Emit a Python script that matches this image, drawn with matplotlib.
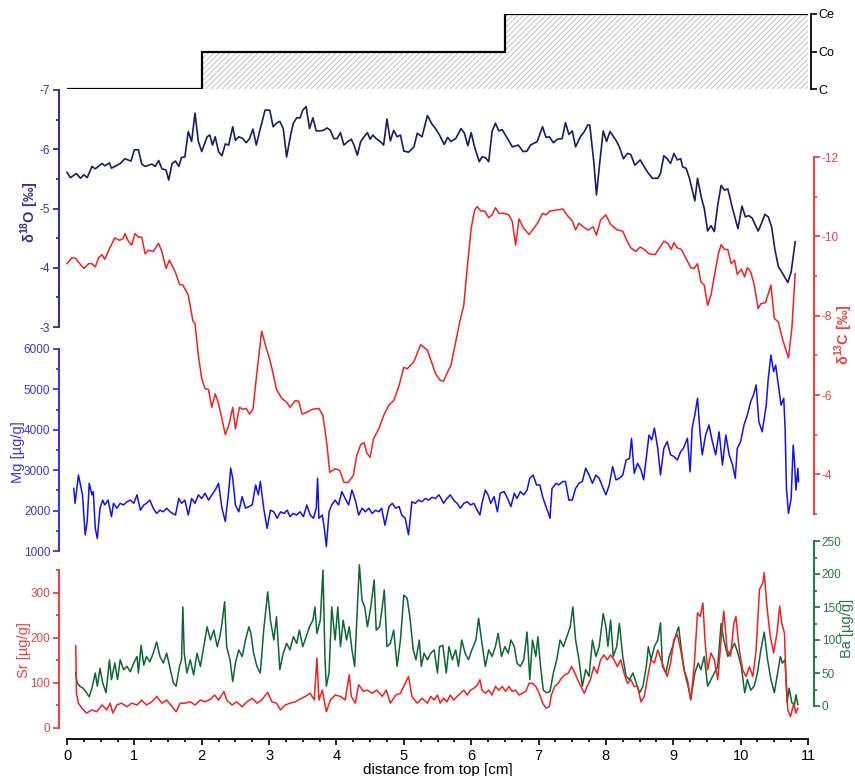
import matplotlib
matplotlib.use("Agg")
import matplotlib.pyplot as plt
from matplotlib.ticker import MultipleLocator

# growth zones along the sample (step panel on top)
zone_edges = [0.0, 2.0, 6.5, 11.0]
zone_levels = [0, 1, 2]
zone_names = ["C", "Co", "Ce"]

# d18O [permil]
d18o_cm = [0.00, 0.05, 0.14, 0.20, 0.25, 0.30, 0.37, 0.42, 0.52, 0.56, 0.63, 0.66, 0.79, 0.86, 0.95,
           1.00, 1.06, 1.11, 1.16, 1.26, 1.31, 1.36, 1.41, 1.47, 1.51, 1.56, 1.61, 1.66, 1.70, 1.75,
           1.80, 1.85, 1.90, 1.95, 2.00, 2.08, 2.12, 2.16, 2.20, 2.25, 2.30, 2.35, 2.40, 2.46, 2.50,
           2.55, 2.61, 2.66, 2.71, 2.76, 2.81, 2.87, 2.94, 3.01, 3.06, 3.11, 3.16, 3.21, 3.26, 3.32,
           3.36, 3.41, 3.46, 3.50, 3.55, 3.60, 3.65, 3.70, 3.76, 3.81, 3.86, 3.91, 3.96, 4.01, 4.06,
           4.11, 4.17, 4.22, 4.26, 4.31, 4.36, 4.41, 4.46, 4.50, 4.54, 4.59, 4.65, 4.70, 4.75, 4.80,
           4.85, 4.90, 4.95, 5.00, 5.07, 5.15, 5.20, 5.27, 5.35, 5.42, 5.47, 5.53, 5.60, 5.65, 5.70,
           5.77, 5.85, 5.90, 5.95, 6.00, 6.05, 6.12, 6.16, 6.21, 6.26, 6.31, 6.36, 6.41, 6.46, 6.54,
           6.61, 6.70, 6.77, 6.83, 6.88, 6.98, 7.06, 7.11, 7.16, 7.22, 7.28, 7.35, 7.40, 7.45, 7.50,
           7.55, 7.62, 7.68, 7.73, 7.76, 7.82, 7.86, 7.91, 7.96, 8.01, 8.06, 8.15, 8.20, 8.26, 8.32,
           8.37, 8.43, 8.51, 8.56, 8.62, 8.69, 8.77, 8.81, 8.86, 8.91, 8.96, 9.01, 9.06, 9.11, 9.14,
           9.19, 9.24, 9.32, 9.36, 9.42, 9.46, 9.51, 9.56, 9.61, 9.66, 9.71, 9.76, 9.81, 9.88, 9.96,
           10.02, 10.07, 10.12, 10.17, 10.22, 10.26, 10.31, 10.36, 10.41, 10.46, 10.51, 10.56, 10.62,
           10.70, 10.75, 10.81]
d18o_val = [-5.61, -5.52, -5.59, -5.51, -5.57, -5.52, -5.71, -5.67, -5.76, -5.72, -5.77, -5.68, -5.76,
            -5.84, -5.80, -5.99, -5.99, -5.75, -5.71, -5.75, -5.71, -5.81, -5.67, -5.65, -5.48, -5.76,
            -5.80, -5.71, -5.86, -5.87, -6.30, -6.13, -6.61, -6.13, -5.96, -6.21, -6.24, -6.07, -6.21,
            -5.96, -5.89, -6.09, -6.07, -6.38, -6.15, -6.21, -6.18, -6.11, -6.18, -6.34, -6.07, -6.35,
            -6.66, -6.66, -6.38, -6.44, -6.47, -6.35, -5.87, -6.24, -6.44, -6.53, -6.53, -6.66, -6.72,
            -6.35, -6.53, -6.31, -6.31, -6.32, -6.36, -6.32, -6.18, -6.18, -6.28, -6.07, -6.13, -6.17,
            -6.07, -5.90, -6.13, -6.21, -6.28, -6.17, -6.24, -6.18, -6.13, -6.07, -6.51, -6.14, -6.32,
            -6.21, -6.24, -5.97, -5.95, -6.04, -6.27, -6.21, -6.57, -6.42, -6.35, -6.24, -6.08, -6.20,
            -6.13, -6.18, -6.35, -6.27, -6.06, -6.28, -6.04, -5.79, -5.87, -5.86, -5.79, -6.30, -6.44,
            -6.31, -6.33, -6.18, -6.04, -6.07, -5.96, -5.97, -6.07, -6.13, -6.38, -6.20, -6.21, -6.11,
            -6.17, -6.18, -6.45, -6.25, -6.31, -6.04, -6.21, -6.30, -6.41, -6.41, -5.79, -5.23, -5.79,
            -6.31, -6.13, -6.30, -6.15, -6.04, -5.84, -5.93, -5.91, -5.73, -5.82, -5.72, -5.61, -5.51,
            -5.51, -5.59, -5.89, -5.84, -5.76, -5.93, -5.82, -5.84, -5.70, -5.68, -5.51, -5.13, -5.51,
            -5.17, -5.00, -4.62, -4.71, -4.61, -5.06, -5.39, -5.31, -5.33, -5.00, -4.66, -5.04, -4.86,
            -4.88, -4.84, -4.72, -4.62, -4.75, -4.90, -4.86, -4.69, -4.30, -4.02, -3.91, -3.75, -3.93,
            -4.44]

# d13C [permil]
d13c_cm = [0.00, 0.07, 0.13, 0.19, 0.25, 0.32, 0.37, 0.42, 0.47, 0.52, 0.56, 0.63, 0.71, 0.78, 0.83,
           0.86, 0.91, 0.96, 1.01, 1.06, 1.11, 1.16, 1.21, 1.28, 1.36, 1.41, 1.47, 1.52, 1.61, 1.67,
           1.72, 1.80, 1.87, 1.90, 1.95, 2.00, 2.05, 2.10, 2.15, 2.20, 2.25, 2.30, 2.35, 2.40, 2.46,
           2.50, 2.56, 2.61, 2.66, 2.71, 2.76, 2.82, 2.89, 2.96, 3.02, 3.11, 3.19, 3.26, 3.31, 3.39,
           3.44, 3.49, 3.56, 3.64, 3.74, 3.80, 3.86, 3.90, 3.98, 4.05, 4.11, 4.17, 4.25, 4.30, 4.36,
           4.41, 4.45, 4.50, 4.55, 4.63, 4.70, 4.78, 4.85, 4.93, 5.00, 5.05, 5.15, 5.25, 5.35, 5.41,
           5.47, 5.54, 5.59, 5.65, 5.70, 5.77, 5.83, 5.89, 5.95, 6.00, 6.05, 6.09, 6.14, 6.20, 6.26,
           6.31, 6.36, 6.41, 6.49, 6.56, 6.61, 6.66, 6.71, 6.78, 6.86, 6.93, 6.99, 7.06, 7.11, 7.17,
           7.26, 7.36, 7.43, 7.50, 7.55, 7.60, 7.68, 7.74, 7.81, 7.86, 7.92, 8.00, 8.07, 8.17, 8.25,
           8.31, 8.37, 8.44, 8.51, 8.57, 8.64, 8.73, 8.79, 8.86, 8.92, 8.97, 9.01, 9.06, 9.12, 9.19,
           9.26, 9.31, 9.36, 9.41, 9.46, 9.51, 9.56, 9.62, 9.67, 9.71, 9.76, 9.81, 9.86, 9.91, 9.95,
           10.01, 10.06, 10.10, 10.15, 10.20, 10.26, 10.30, 10.37, 10.45, 10.50, 10.56, 10.62, 10.71,
           10.76, 10.81]
d13c_val = [-9.31, -9.46, -9.44, -9.31, -9.19, -9.31, -9.31, -9.23, -9.46, -9.54, -9.42, -9.69, -9.96,
            -9.90, -9.94, -10.07, -9.88, -9.78, -10.07, -9.98, -9.98, -9.56, -9.65, -9.62, -9.82, -9.61,
            -9.19, -9.40, -9.09, -8.79, -8.77, -8.52, -7.86, -7.80, -7.00, -6.41, -6.16, -6.14, -5.69,
            -6.03, -5.78, -5.40, -5.00, -5.23, -5.69, -5.15, -5.69, -5.64, -5.66, -5.52, -5.64, -6.58,
            -7.61, -7.17, -6.84, -6.14, -5.91, -5.82, -5.69, -5.86, -5.84, -5.52, -5.56, -5.64, -5.66,
            -5.48, -4.73, -4.05, -4.14, -4.10, -3.80, -3.79, -3.97, -4.47, -4.75, -4.80, -4.54, -4.43,
            -4.90, -5.15, -5.48, -5.75, -5.86, -6.24, -6.70, -6.66, -6.84, -7.27, -7.13, -6.84, -6.54,
            -6.37, -6.35, -6.58, -6.75, -7.34, -7.84, -8.26, -9.36, -10.20, -10.66, -10.75, -10.64,
            -10.64, -10.47, -10.54, -10.72, -10.58, -10.58, -10.54, -10.37, -9.78, -10.44, -10.20,
            -10.05, -10.20, -10.35, -10.58, -10.54, -10.64, -10.66, -10.69, -10.52, -10.39, -10.16,
            -10.33, -10.22, -10.16, -10.24, -10.03, -10.41, -10.54, -10.30, -10.16, -10.13, -9.90,
            -9.71, -9.62, -9.73, -9.67, -9.56, -9.54, -9.69, -9.88, -9.82, -9.67, -9.84, -9.71, -9.67,
            -9.44, -9.21, -9.19, -9.31, -8.85, -8.77, -8.26, -8.52, -9.10, -9.56, -9.79, -9.67, -9.67,
            -9.31, -9.40, -9.04, -9.17, -8.98, -9.21, -9.10, -8.79, -8.18, -8.30, -8.33, -8.77, -7.93,
            -7.84, -7.42, -6.93, -7.68, -9.06]

# Mg [ug/g]
mg_cm = [0.10, 0.12, 0.17, 0.20, 0.23, 0.27, 0.30, 0.33, 0.37, 0.39, 0.42, 0.45, 0.49, 0.53, 0.56,
         0.61, 0.66, 0.69, 0.74, 0.79, 0.84, 0.89, 0.94, 0.99, 1.04, 1.09, 1.14, 1.18, 1.23, 1.28,
         1.33, 1.38, 1.43, 1.48, 1.53, 1.61, 1.66, 1.70, 1.75, 1.80, 1.85, 1.90, 1.95, 2.00, 2.05,
         2.10, 2.15, 2.20, 2.25, 2.30, 2.35, 2.40, 2.43, 2.46, 2.50, 2.55, 2.60, 2.65, 2.70, 2.75,
         2.80, 2.84, 2.87, 2.92, 2.97, 3.02, 3.07, 3.12, 3.17, 3.22, 3.27, 3.31, 3.36, 3.41, 3.46,
         3.51, 3.56, 3.61, 3.66, 3.70, 3.72, 3.74, 3.79, 3.82, 3.85, 3.89, 3.93, 3.98, 4.03, 4.08,
         4.13, 4.18, 4.23, 4.28, 4.33, 4.38, 4.43, 4.48, 4.53, 4.58, 4.63, 4.67, 4.72, 4.78, 4.83,
         4.88, 4.93, 4.97, 5.02, 5.07, 5.12, 5.17, 5.22, 5.27, 5.32, 5.37, 5.42, 5.47, 5.52, 5.54,
         5.59, 5.64, 5.69, 5.74, 5.79, 5.84, 5.89, 5.94, 5.99, 6.04, 6.09, 6.13, 6.16, 6.21, 6.25,
         6.29, 6.34, 6.39, 6.43, 6.49, 6.54, 6.59, 6.64, 6.68, 6.73, 6.78, 6.83, 6.87, 6.92, 6.97,
         7.02, 7.06, 7.11, 7.14, 7.17, 7.20, 7.26, 7.30, 7.36, 7.40, 7.45, 7.50, 7.55, 7.60, 7.65,
         7.70, 7.75, 7.80, 7.85, 7.90, 7.95, 8.00, 8.05, 8.10, 8.15, 8.20, 8.25, 8.30, 8.35, 8.38,
         8.42, 8.47, 8.52, 8.56, 8.61, 8.64, 8.68, 8.72, 8.77, 8.81, 8.86, 8.91, 8.96, 9.01, 9.06,
         9.11, 9.15, 9.21, 9.25, 9.28, 9.32, 9.36, 9.40, 9.43, 9.48, 9.53, 9.58, 9.63, 9.68, 9.73,
         9.78, 9.83, 9.88, 9.92, 9.95, 10.00, 10.05, 10.10, 10.15, 10.19, 10.23, 10.27, 10.32, 10.38,
         10.41, 10.45, 10.49, 10.52, 10.56, 10.60, 10.64, 10.66, 10.68, 10.71, 10.75, 10.78, 10.80,
         10.82, 10.85, 10.86]
mg_val = [2550, 2180, 2880, 2635, 2390, 1400, 1730, 2675, 2390, 2470, 1560, 1310, 2060, 2260, 2140,
          2260, 1850, 2180, 2060, 2180, 2140, 2220, 2260, 2180, 2390, 2010, 2140, 2180, 2260, 2060,
          1930, 2010, 1970, 2060, 1970, 1890, 2300, 2180, 2260, 1890, 2300, 2180, 2390, 2300, 2430,
          2260, 2390, 2510, 2675, 2060, 1730, 2470, 3050, 2800, 2140, 1970, 2345, 2060, 2100, 2140,
          2635, 2390, 2720, 2060, 1560, 2010, 1970, 1810, 1970, 1930, 2010, 1850, 1930, 1890, 1970,
          1850, 2140, 1890, 1810, 2060, 2800, 1810, 1890, 1560, 1110, 1970, 2140, 2260, 2140, 2470,
          2300, 2140, 2510, 2260, 1890, 2060, 1970, 2060, 1930, 2010, 1970, 2060, 1640, 2100, 2180,
          2060, 2100, 1890, 1810, 1400, 2220, 2180, 2260, 2220, 2300, 2260, 2330, 2300, 2390, 2345,
          2180, 2300, 2390, 2262, 2180, 2060, 2180, 2220, 2140, 2180, 2010, 1890, 2180, 2510, 2390,
          2180, 2345, 1970, 2430, 2470, 2300, 2100, 2430, 2300, 2470, 2390, 2510, 2800, 2880, 2635,
          2635, 2345, 2100, 1970, 1810, 2550, 2675, 2635, 2720, 2720, 2260, 2260, 2550, 2675, 2720,
          3050, 2880, 2675, 2880, 2800, 2590, 2390, 2635, 3090, 2760, 2800, 2880, 3250, 3290, 3790,
          2920, 3170, 3010, 2760, 3460, 3870, 3750, 4040, 3540, 2880, 3540, 3710, 3380, 3340, 3250,
          3460, 3540, 3790, 2960, 4040, 4370, 4780, 3870, 3380, 3870, 4120, 3710, 3380, 3950, 3130,
          3870, 3380, 3130, 2800, 3540, 3710, 4120, 4370, 4700, 4860, 5110, 4200, 3950, 4610, 5270,
          5850, 5440, 5600, 5110, 4610, 4780, 4040, 2550, 1930, 2300, 3620, 3210, 2510, 3050, 2720]

# Sr [ug/g]
sr_cm = [0.13, 0.14, 0.17, 0.22, 0.29, 0.37, 0.44, 0.52, 0.59, 0.64, 0.68, 0.74, 0.81, 0.89, 0.96,
         1.04, 1.11, 1.18, 1.26, 1.33, 1.41, 1.48, 1.56, 1.62, 1.68, 1.75, 1.83, 1.90, 1.98, 2.05,
         2.13, 2.19, 2.25, 2.33, 2.37, 2.45, 2.52, 2.60, 2.67, 2.75, 2.82, 2.89, 2.98, 3.04, 3.11,
         3.17, 3.24, 3.31, 3.39, 3.46, 3.54, 3.61, 3.67, 3.71, 3.74, 3.79, 3.85, 3.91, 3.98, 4.06,
         4.13, 4.19, 4.22, 4.28, 4.33, 4.40, 4.46, 4.53, 4.60, 4.68, 4.74, 4.80, 4.88, 4.95, 5.02,
         5.07, 5.12, 5.20, 5.27, 5.35, 5.40, 5.45, 5.50, 5.54, 5.59, 5.64, 5.69, 5.74, 5.79, 5.84,
         5.89, 5.94, 5.99, 6.04, 6.09, 6.13, 6.16, 6.21, 6.26, 6.31, 6.36, 6.41, 6.46, 6.51, 6.56,
         6.61, 6.66, 6.71, 6.76, 6.81, 6.86, 6.91, 6.96, 7.01, 7.06, 7.11, 7.16, 7.19, 7.24, 7.29,
         7.34, 7.39, 7.44, 7.49, 7.53, 7.58, 7.63, 7.68, 7.72, 7.77, 7.82, 7.87, 7.92, 7.97, 8.02,
         8.07, 8.12, 8.17, 8.22, 8.27, 8.32, 8.37, 8.42, 8.47, 8.52, 8.57, 8.62, 8.67, 8.72, 8.77,
         8.82, 8.87, 8.91, 8.96, 9.01, 9.06, 9.11, 9.16, 9.21, 9.26, 9.31, 9.36, 9.40, 9.44, 9.47,
         9.51, 9.56, 9.61, 9.66, 9.71, 9.75, 9.80, 9.85, 9.90, 9.93, 9.98, 10.03, 10.08, 10.13, 10.18,
         10.23, 10.28, 10.33, 10.35, 10.39, 10.44, 10.49, 10.54, 10.58, 10.61, 10.65, 10.67, 10.70,
         10.74, 10.79, 10.82, 10.85]
sr_val = [182, 77, 55, 44, 33, 40, 36, 51, 40, 55, 33, 51, 55, 47, 55, 51, 62, 51, 58, 70, 55, 62, 47,
          36, 55, 55, 58, 51, 62, 58, 64, 73, 62, 81, 62, 51, 58, 47, 58, 66, 55, 62, 79, 58, 55, 40,
          51, 55, 58, 64, 70, 77, 62, 155, 62, 84, 36, 62, 73, 70, 62, 118, 70, 55, 96, 81, 84, 77, 84,
          70, 84, 55, 73, 77, 99, 114, 70, 55, 66, 55, 70, 62, 73, 55, 66, 58, 73, 62, 70, 77, 84, 73,
          84, 88, 95, 107, 84, 77, 84, 73, 92, 84, 92, 81, 92, 81, 84, 73, 77, 81, 99, 99, 92, 77, 55,
          44, 47, 73, 92, 99, 110, 118, 121, 136, 125, 107, 92, 77, 92, 107, 136, 121, 151, 162, 151,
          162, 151, 136, 151, 121, 99, 107, 92, 92, 58, 70, 114, 151, 144, 173, 151, 129, 114, 144, 196,
          207, 173, 129, 107, 62, 136, 255, 247, 277, 196, 129, 166, 151, 107, 196, 259, 173, 159, 232,
          247, 173, 129, 114, 136, 114, 173, 307, 322, 344, 270, 203, 166, 211, 270, 232, 211, 121, 40,
          25, 55, 33, 44]

# Ba [ug/g]
ba_cm = [0.13, 0.15, 0.19, 0.24, 0.29, 0.33, 0.37, 0.42, 0.45, 0.49, 0.53, 0.58, 0.63, 0.66, 0.71,
         0.75, 0.79, 0.84, 0.89, 0.94, 0.99, 1.04, 1.06, 1.10, 1.14, 1.18, 1.23, 1.28, 1.33, 1.38,
         1.43, 1.48, 1.53, 1.58, 1.62, 1.67, 1.70, 1.72, 1.74, 1.78, 1.83, 1.88, 1.93, 1.98, 2.03,
         2.08, 2.13, 2.18, 2.23, 2.27, 2.30, 2.34, 2.37, 2.42, 2.46, 2.50, 2.55, 2.60, 2.65, 2.70,
         2.73, 2.77, 2.82, 2.87, 2.92, 2.98, 3.02, 3.07, 3.11, 3.16, 3.21, 3.26, 3.31, 3.36, 3.41,
         3.45, 3.50, 3.55, 3.60, 3.65, 3.68, 3.71, 3.76, 3.80, 3.83, 3.85, 3.89, 3.93, 3.98, 4.02,
         4.06, 4.10, 4.15, 4.19, 4.23, 4.27, 4.30, 4.34, 4.38, 4.42, 4.46, 4.51, 4.56, 4.59, 4.64,
         4.68, 4.71, 4.75, 4.80, 4.85, 4.90, 4.95, 5.00, 5.05, 5.09, 5.14, 5.18, 5.23, 5.26, 5.30,
         5.35, 5.40, 5.45, 5.50, 5.53, 5.58, 5.63, 5.67, 5.72, 5.77, 5.81, 5.86, 5.91, 5.96, 6.01,
         6.07, 6.11, 6.16, 6.21, 6.26, 6.31, 6.36, 6.40, 6.45, 6.50, 6.55, 6.59, 6.64, 6.68, 6.73,
         6.78, 6.83, 6.87, 6.91, 6.96, 6.99, 7.03, 7.07, 7.12, 7.17, 7.22, 7.27, 7.32, 7.37, 7.42,
         7.47, 7.51, 7.55, 7.60, 7.65, 7.70, 7.75, 7.80, 7.85, 7.90, 7.96, 8.00, 8.03, 8.07, 8.11,
         8.16, 8.20, 8.25, 8.30, 8.35, 8.40, 8.45, 8.50, 8.55, 8.60, 8.63, 8.67, 8.72, 8.77, 8.81,
         8.84, 8.89, 8.94, 8.99, 9.03, 9.08, 9.12, 9.17, 9.22, 9.26, 9.32, 9.37, 9.41, 9.46, 9.51,
         9.56, 9.61, 9.66, 9.71, 9.75, 9.81, 9.86, 9.91, 9.96, 10.01, 10.06, 10.10, 10.15, 10.20,
         10.25, 10.30, 10.35, 10.40, 10.45, 10.50, 10.55, 10.59, 10.62, 10.66, 10.69, 10.72, 10.76,
         10.80, 10.82, 10.85]
ba_val = [50, 35, 30, 27, 20, 14, 27, 50, 30, 57, 35, 20, 70, 40, 65, 40, 70, 55, 60, 52, 65, 75, 50,
          92, 62, 75, 67, 80, 97, 75, 65, 80, 57, 35, 30, 60, 70, 150, 80, 50, 70, 47, 80, 60, 90, 120,
          100, 115, 90, 105, 125, 158, 90, 70, 37, 65, 85, 75, 100, 120, 110, 80, 60, 50, 115, 173, 130,
          100, 135, 55, 80, 95, 85, 105, 95, 115, 90, 105, 120, 130, 150, 110, 130, 206, 70, 30, 50,
          150, 100, 150, 90, 130, 100, 120, 85, 60, 125, 214, 160, 150, 120, 150, 191, 115, 120, 150,
          176, 90, 95, 115, 60, 100, 168, 163, 135, 85, 70, 100, 60, 80, 70, 80, 85, 50, 90, 92, 50,
          90, 70, 85, 60, 100, 80, 70, 85, 100, 133, 95, 60, 85, 75, 90, 110, 75, 90, 80, 100, 90, 65,
          60, 70, 112, 40, 100, 75, 105, 60, 24, 20, 22, 50, 70, 100, 90, 105, 120, 150, 100, 70, 30,
          55, 45, 100, 75, 90, 140, 120, 90, 130, 75, 90, 125, 75, 45, 40, 50, 35, 20, 30, 60, 90, 70,
          90, 100, 126, 60, 50, 75, 90, 105, 120, 85, 50, 30, 10, 50, 65, 55, 75, 30, 40, 50, 60, 125,
          100, 75, 85, 95, 80, 60, 20, 40, 24, 30, 50, 85, 112, 70, 40, 20, 50, 75, 65, 70, 5, 27, 5,
          2, 17, 2]

plt.rcParams["font.family"] = ["Liberation Sans", "DejaVu Sans"]
plt.rcParams["axes.unicode_minus"] = False
plt.rcParams["mathtext.fontset"] = "custom"
plt.rcParams["mathtext.rm"] = "Liberation Sans"
plt.rcParams["mathtext.bf"] = "Liberation Sans:bold"
plt.rcParams["hatch.linewidth"] = 0.6

W, H = 855, 776
X0, X1 = 67, 808

NAVY_LINE, NAVY = "#1b1b66", "#34348c"
RED_LINE, RED = "#ee2222", "#e84444"
BLUE_LINE, BLUE = "#1212ee", "#3a3ad8"
GREEN_LINE, GREEN = "#0d6634", "#287a48"

fig = plt.figure(figsize=(W / 100, H / 100), dpi=100)


def band(top, bottom, z):
    """Axes spanning the shared x range between two pixel rows."""
    ax = fig.add_axes([X0 / W, 1 - bottom / H, (X1 - X0) / W, (bottom - top) / H], zorder=z)
    ax.patch.set_visible(False)
    for sp in ax.spines.values():
        sp.set_visible(False)
    ax.set_xlim(0, 11)
    ax.tick_params(axis="x", which="both", bottom=False, labelbottom=False)
    return ax


def yaxis(ax, side, color, major, minor, offset=6):
    sp = ax.spines[side]
    sp.set_visible(True)
    sp.set_color(color)
    sp.set_linewidth(1.5)
    sp.set_position(("outward", offset))
    ax.yaxis.set_ticks_position(side)
    ax.yaxis.set_major_locator(MultipleLocator(major))
    ax.yaxis.set_minor_locator(MultipleLocator(minor))
    ax.tick_params(axis="y", which="both", colors=color, labelcolor=color, width=1.3,
                   labelsize=8.5, pad=1.5)
    ax.tick_params(axis="y", which="major", length=4.5)
    ax.tick_params(axis="y", which="minor", length=2.5)


def label(x, y, text, color, bold=False, size=11):
    fig.text(x / W, 1 - y / H, text, color=color, rotation=90, ha="center", va="center",
             fontsize=size, fontweight="bold" if bold else "normal")


# growth zones
ax_z = band(14, 89, 1)
ax_z.stairs(zone_levels, zone_edges, baseline=0, fill=True, hatch="//////",
            facecolor="white", edgecolor="#b8b8b8", linewidth=0)
ax_z.stairs(zone_levels, zone_edges, baseline=None, color="black", linewidth=1.6)
ax_z.set_ylim(0, 2)
ax_z.spines["right"].set_visible(True)
ax_z.spines["right"].set_position(("outward", 2))
ax_z.spines["right"].set_linewidth(1.3)
ax_z.yaxis.set_ticks_position("right")
ax_z.set_yticks(zone_levels, zone_names)
ax_z.tick_params(axis="y", length=4, width=1.2, labelsize=9, pad=1.5)

# d18O
ax_o = band(90, 327, 3)
ax_o.plot(d18o_cm, d18o_val, color=NAVY_LINE, lw=1.2, clip_on=False)
ax_o.set_ylim(-3, -7)
yaxis(ax_o, "left", NAVY, 1, 0.5)
label(30, 212, r"δ$^{\mathbf{18}}$O [‰]", NAVY, bold=True, size=10.5)

# d13C
ax_c = band(157, 514, 2)
ax_c.plot(d13c_cm, d13c_val, color=RED_LINE, lw=1.1, clip_on=False)
ax_c.set_ylim(-3, -12)
yaxis(ax_c, "right", RED, 2, 1, offset=4)
label(844, 335, r"δ$^{\mathbf{13}}$C [‰]", RED, bold=True, size=10.5)

# Mg
ax_m = band(349, 551, 2)
ax_m.plot(mg_cm, mg_val, color=BLUE_LINE, lw=1.1, clip_on=False)
ax_m.set_ylim(1000, 6000)
yaxis(ax_m, "left", BLUE, 1000, 500)
label(18, 452, "Mg [µg/g]", BLUE, size=10.5)

# Ba (drawn below Sr)
ax_b = band(541, 706, 1)
ax_b.plot(ba_cm, ba_val, color=GREEN_LINE, lw=1.1, clip_on=False)
ax_b.set_ylim(0, 250)
yaxis(ax_b, "right", GREEN, 50, 25, offset=4)
label(847, 628, "Ba [µg/g]", GREEN, size=10.5)

# Sr + distance axis
ax_s = band(570, 728, 2)
ax_s.plot(sr_cm, sr_val, color=RED_LINE, lw=1.1, clip_on=False)
ax_s.set_ylim(0, 350)
yaxis(ax_s, "left", RED, 100, 50)
label(24, 650, "Sr [µg/g]", RED, size=10.5)

ax_s.spines["bottom"].set_visible(True)
ax_s.spines["bottom"].set_position(("outward", 8))
ax_s.spines["bottom"].set_linewidth(1.3)
ax_s.xaxis.set_major_locator(MultipleLocator(1))
ax_s.xaxis.set_minor_locator(MultipleLocator(0.25))
ax_s.tick_params(axis="x", which="both", bottom=True, labelbottom=True, width=1.2, labelsize=10.5,
                 pad=2.5)
ax_s.tick_params(axis="x", which="major", length=4.5)
ax_s.tick_params(axis="x", which="minor", length=2.5)
ax_s.set_xlabel("distance from top [cm]", fontsize=11, labelpad=0)

fig.savefig("out.png", dpi=100)
